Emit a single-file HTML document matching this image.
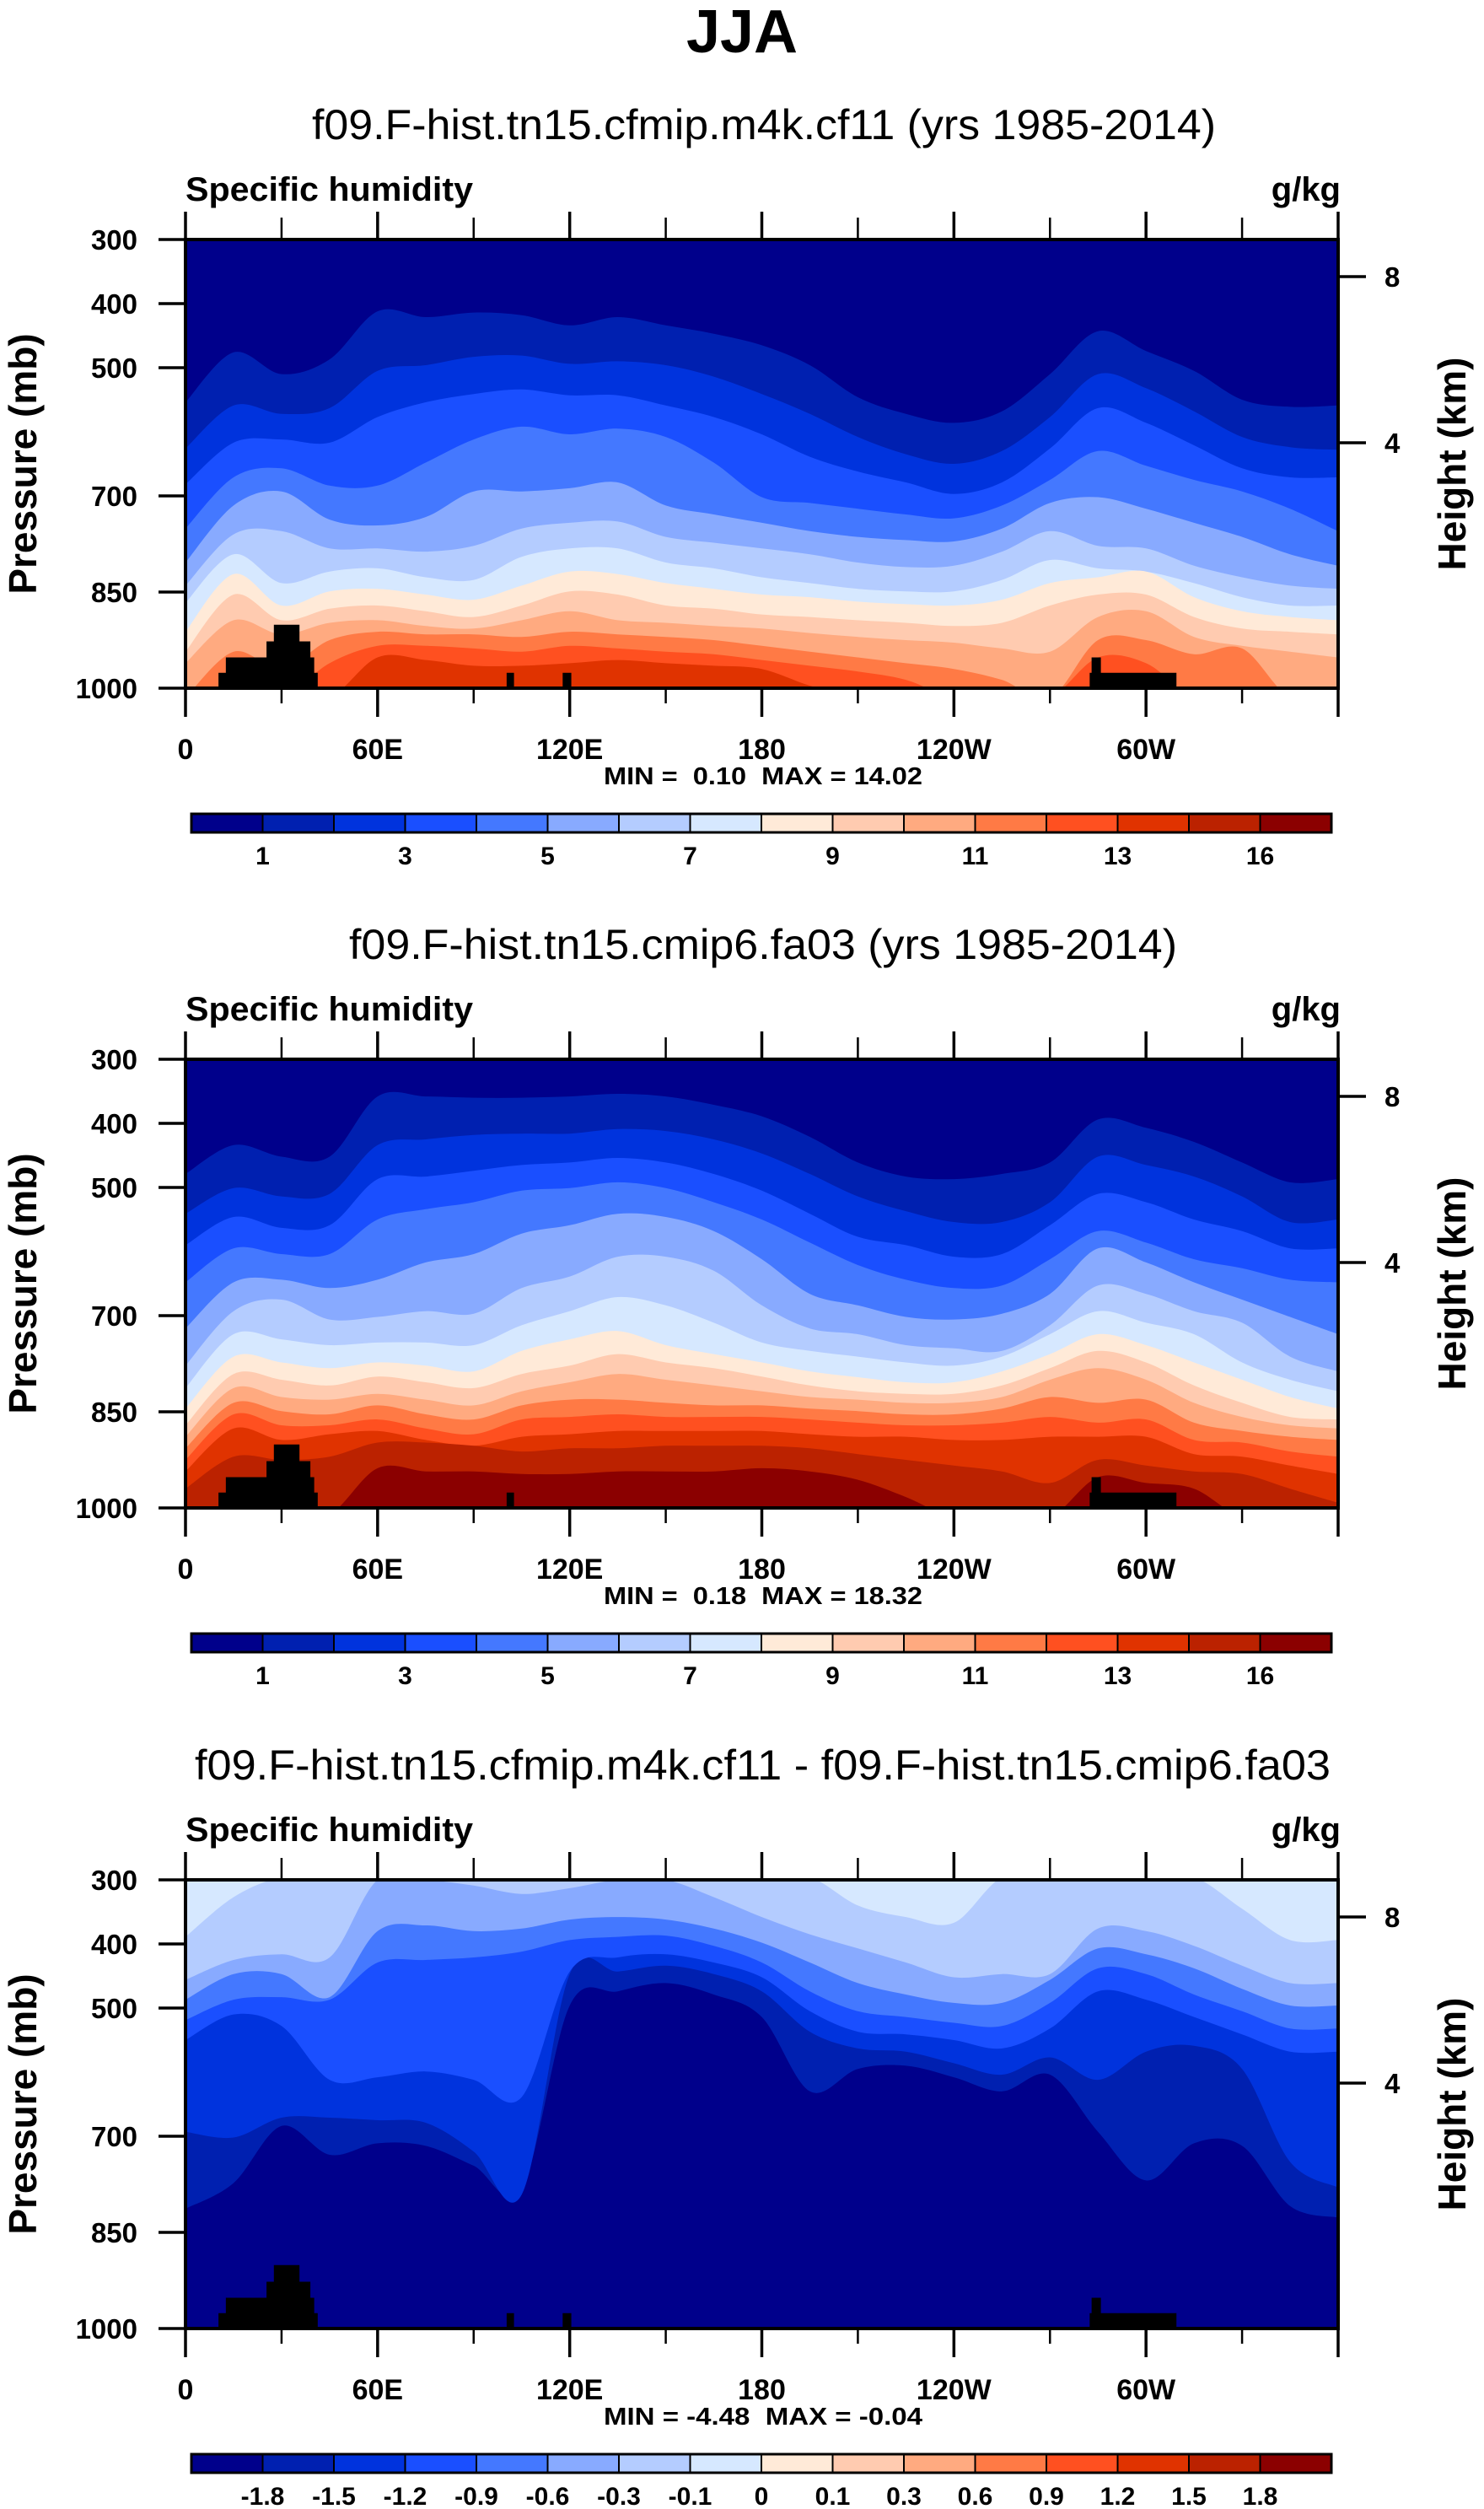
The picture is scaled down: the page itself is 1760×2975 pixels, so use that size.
<!DOCTYPE html>
<html><head><meta charset="utf-8">
<style>
html,body{margin:0;padding:0;background:#fff;}
svg{display:block;font-family:"Liberation Sans",Arial,sans-serif;}
.pre{white-space:pre;}
</style></head>
<body>
<svg id="fig" width="1760" height="2975" viewBox="0 0 1760 2975" xmlns="http://www.w3.org/2000/svg">
<defs>
<clipPath id="clip1"><rect x="220" y="284" width="1367" height="532"/></clipPath>
<clipPath id="clip2"><rect x="220" y="1256" width="1367" height="532"/></clipPath>
<clipPath id="clip3"><rect x="220" y="2229" width="1367" height="532"/></clipPath>
</defs>
<text x="880" y="62" text-anchor="middle" font-size="72" font-weight="bold">JJA</text>
<g id="plots"></g>
</svg>
<script>
// ---- data ----
const lons = [0,15,30,45,60,75,90,105,120,135,150,165,180,195,210,225,240,255,270,285,300,315,330,345,360];
const xTickLabels = ["0","60E","120E","180","120W","60W"];
const pTicks = [300,400,500,700,850,1000];
const hTicks = [8,4];
const colorsQ = ["#00008b","#0020b0","#0033dd","#1a4fff","#4478ff","#88aaff","#b4ccff","#d6e8ff","#ffead8","#ffcbb0","#ffaa80","#ff7a45","#ff5020","#e03300","#bb2200","#8b0000"];
const cbLabelsQ = ["1","3","5","7","9","11","13","16"];
const cbLabelsD = ["-1.8","-1.5","-1.2","-0.9","-0.6","-0.3","-0.1","0","0.1","0.3","0.6","0.9","1.2","1.5","1.8"];

// plot 1: pressure (mb) of each contour level along longitude
const p1L1 = [554,476,510,487,412,421,414,418,434,421,434,447,465,496,546,572,586,568,510,443,474,505,550,561,559];
const p1L2 = [626,559,572,563,505,496,483,481,494,490,496,514,541,572,608,635,650,630,577,510,532,568,608,624,628];
const p1L3 = [682,617,612,617,577,554,541,534,543,543,559,577,604,639,662,679,697,679,626,563,586,621,657,671,671];
const p1L4 = [751,671,657,684,684,648,612,592,604,595,608,648,702,711,720,729,735,715,675,630,653,675,693,720,755];
const p1L5 = [804,715,693,737,746,733,693,693,688,679,715,729,742,755,764,769,771,751,711,702,720,742,764,791,809];
const p1L6 = [840,760,755,782,782,787,778,751,742,740,764,773,782,791,804,811,809,787,755,778,782,809,827,840,845];
const p1L7 = [867,791,836,818,813,827,831,795,782,782,804,813,827,836,845,849,849,831,800,813,818,836,858,871,871];
const p1L8 = [912,822,871,849,845,854,862,840,818,822,836,845,854,858,865,869,871,862,836,827,818,858,880,889,894];
const p1L9 = [943,854,894,876,871,880,889,871,849,854,871,876,885,889,894,898,903,898,871,854,854,889,907,912,916];
const p1L10 = [961,894,916,898,894,903,907,894,880,894,898,903,907,914,920,925,929,938,943,889,880,920,934,943,952];
const p1L11 = [1015,943,970,925,912,916,916,920,912,916,920,925,934,943,952,961,970,987,1015,925,925,947,938,1015,1015];
const p1L12 = [1015,1015,1015,961,934,934,938,943,934,938,943,947,956,965,974,987,1015,1015,1015,952,961,1015,1015,1015,1015];
const p1L13 = [1015,1015,1015,1015,952,956,965,965,961,956,961,965,970,996,1015,1015,1015,1015,1015,1015,1015,1015,1015,1015,1015];

// plot 2
const p2L1 = [479,434,452,452,358,358,360,360,358,354,358,371,389,421,461,483,487,479,461,394,407,429,461,492,487];
const p2L2 = [541,501,514,510,434,425,418,416,416,409,412,425,447,479,514,537,554,554,523,452,465,483,514,554,550];
const p2L3 = [590,546,563,559,487,483,474,465,461,454,461,479,505,541,577,590,608,604,559,510,523,550,568,595,595];
const p2L4 = [648,595,604,604,550,534,523,505,501,492,501,523,550,586,621,644,657,653,612,568,586,612,626,644,648];
const p2L5 = [720,648,644,657,644,617,604,572,559,541,546,568,612,666,684,702,706,697,666,595,617,648,675,702,729];
const p2L6 = [778,693,675,706,702,693,697,657,639,608,608,630,684,720,729,746,751,755,715,653,666,693,711,764,787];
const p2L7 = [813,729,737,746,742,742,746,715,693,671,684,711,742,755,764,773,778,764,729,693,711,729,773,800,818];
const p2L8 = [845,764,773,782,773,778,787,755,737,724,746,760,773,787,796,804,804,787,760,729,746,773,800,827,845];
const p2L9 = [871,791,800,809,795,804,813,791,778,760,773,782,795,809,818,822,822,809,782,755,773,809,836,858,862];
const p2L10 = [889,813,827,831,822,831,840,818,804,791,800,809,818,827,831,836,836,827,800,782,800,836,858,871,876];
const p2L11 = [907,836,849,854,840,854,862,840,831,831,836,840,840,845,849,854,854,845,827,836,831,867,880,889,894];
const p2L12 = [925,854,871,871,862,876,885,862,858,854,858,858,858,862,867,871,871,867,858,867,862,894,898,912,920];
const p2L13 = [943,876,894,885,880,894,903,889,885,880,880,880,880,885,889,889,894,894,889,889,889,916,920,934,947];
const p2L14 = [970,920,925,920,898,898,903,912,907,907,903,903,903,907,916,925,934,943,961,925,934,943,947,970,992];
const p2L15 = [1015,1015,1015,1010,938,943,943,947,947,943,943,943,938,943,956,983,1015,1015,1015,952,961,970,1015,1015,1015];

// plot 3 (difference): lower pressure edge of each colour class from the top
const p3B1 = [813,773,684,729,711,715,746,782,496,474,461,479,514,630,595,590,608,630,604,693,769,711,715,809,827];
const p3B2 = [693,702,671,671,675,679,724,791,447,443,434,447,474,537,563,568,586,604,577,612,568,559,595,740,780];
const p3B3 = [550,510,528,612,608,599,612,639,443,421,416,429,452,505,537,541,550,563,532,474,487,514,541,568,568];
const p3B4 = [519,487,483,487,429,425,421,412,394,389,387,403,429,474,505,514,523,528,492,438,447,479,505,532,532];
const p3B5 = [487,447,447,483,380,371,380,376,362,358,362,376,398,429,461,479,492,492,456,407,416,438,470,496,496];
const p3B6 = [456,425,416,421,300,300,309,322,313,300,300,327,358,385,407,429,452,447,447,376,380,403,434,461,461];
const p3B7 = [389,327,296,296,296,296,296,296,296,296,296,296,296,296,340,358,367,296,296,296,296,296,345,394,394];

// land mask rectangles: lon start, lon end, top pressure
const landLon0 = [10.3,12.6,25.3,27.6,100.3,117.8,282.4,283.0];
const landLon1 = [41.3,40.2,39.0,35.6,102.6,120.5,309.5,285.9];
const landTop1 = [976,952,927,901,976,976,976,952];
const landTop2 = [976,952,927,901,976,1100,976,952];

const stats = ["MIN =  0.10  MAX = 14.02","MIN =  0.18  MAX = 18.32","MIN = -4.48  MAX = -0.04"];
const titles = ["f09.F-hist.tn15.cfmip.m4k.cf11 (yrs 1985-2014)","f09.F-hist.tn15.cmip6.fa03 (yrs 1985-2014)","f09.F-hist.tn15.cfmip.m4k.cf11 - f09.F-hist.tn15.cmip6.fa03"];
const titleX0 = [370,414,231];
const titleX1 = [1442,1396,1578];

// ---- drawing ----
const NS="http://www.w3.org/2000/svg";
const root=document.getElementById('plots');
const X0=220,X1=1587,H=532;
function mk(tag,attrs,parent){const e=document.createElementNS(NS,tag);for(const k in attrs)e.setAttribute(k,attrs[k]);(parent||root).appendChild(e);return e;}
function lonX(l){return X0+l/360*(X1-X0);}
function curve(arr,yf){
  const P=lons.map((l,i)=>[lonX(l),yf(arr[i])]);
  let d="M"+P[0][0].toFixed(1)+","+P[0][1].toFixed(1);
  for(let i=0;i<P.length-1;i++){
    const p0=P[Math.max(0,i-1)],p1=P[i],p2=P[i+1],p3=P[Math.min(P.length-1,i+2)];
    const c1=[p1[0]+(p2[0]-p0[0])/6,p1[1]+(p2[1]-p0[1])/6];
    const c2=[p2[0]-(p3[0]-p1[0])/6,p2[1]-(p3[1]-p1[1])/6];
    d+=" C"+c1[0].toFixed(1)+","+c1[1].toFixed(1)+" "+c2[0].toFixed(1)+","+c2[1].toFixed(1)+" "+p2[0].toFixed(1)+","+p2[1].toFixed(1);
  }
  return d;
}
const plots=[
 {top:284,clip:"clip1",levels:[p1L1,p1L2,p1L3,p1L4,p1L5,p1L6,p1L7,p1L8,p1L9,p1L10,p1L11,p1L12,p1L13],down:true,land:landTop1,cb:cbLabelsQ},
 {top:1256,clip:"clip2",levels:[p2L1,p2L2,p2L3,p2L4,p2L5,p2L6,p2L7,p2L8,p2L9,p2L10,p2L11,p2L12,p2L13,p2L14,p2L15],down:true,land:landTop2,cb:cbLabelsQ},
 {top:2229,clip:"clip3",levels:[p3B1,p3B2,p3B3,p3B4,p3B5,p3B6,p3B7],down:false,land:landTop1,cb:cbLabelsD}
];
plots.forEach((pl,pi)=>{
  const T=pl.top,B=T+H;
  const yf=p=>T+(p-300)/700*H;
  const g=mk('g',{});
  
  
  const t=mk('text',{x:(titleX0[pi]+titleX1[pi])/2,y:T-119,'text-anchor':'middle','font-size':50,textLength:titleX1[pi]-titleX0[pi],lengthAdjust:'spacingAndGlyphs'},g);
  t.textContent=titles[pi];
  
  
  const s1=mk('text',{x:220,y:T-46,'font-size':40,'font-weight':'bold',textLength:341,lengthAdjust:'spacingAndGlyphs'},g);
  s1.textContent="Specific humidity";
  
  
  const s2=mk('text',{x:1590,y:T-46,'font-size':40,'font-weight':'bold','text-anchor':'end'},g);
  s2.textContent="g/kg";
  
  
  const field=mk('g',{'clip-path':'url(#'+pl.clip+')'},g);
  
  
  const bg=mk('rect',{x:X0,y:T,width:X1-X0,height:H,fill:colorsQ[0]},field);
  
  
  pl.levels.forEach((arr,k)=>{
    let d=curve(arr,yf);
    if(pl.down) d+=" L"+(X1+5)+","+(B+5)+" L"+(X0-5)+","+(B+5)+" Z";
    else d+=" L"+(X1+5)+","+(T-5)+" L"+(X0-5)+","+(T-5)+" Z";
    const path=mk('path',{d:d,fill:colorsQ[k+1]},field);
    
    
  });
  landLon0.forEach((l0,i)=>{
    if(pl.land[i]>=1000) return;
    const r=mk('rect',{x:lonX(l0),y:yf(pl.land[i]),width:lonX(landLon1[i])-lonX(l0),height:B-yf(pl.land[i]),fill:'#000'},field);
    
    
  });
  const fr=mk('rect',{x:X0,y:T,width:X1-X0,height:H,fill:'none',stroke:'#000','stroke-width':4},g);
  
  
  for(let l=0;l<=360;l+=30){
    const x=lonX(l),maj=l%60===0;
    mk('line',{x1:x,x2:x,y1:T,y2:T-(maj?33:26),stroke:'#000','stroke-width':maj?3.5:2.5},g);
    mk('line',{x1:x,x2:x,y1:B,y2:B+(maj?34:18),stroke:'#000','stroke-width':maj?3.5:2.5},g);
    if(maj&&l<360){
      const tl=mk('text',{x:x,y:B+84,'text-anchor':'middle','font-size':34,'font-weight':'bold'},g);
      tl.textContent=xTickLabels[l/60];
      
      
    }
  }
  pTicks.forEach(p=>{
    const y=yf(p);
    mk('line',{x1:X0,x2:X0-32,y1:y,y2:y,stroke:'#000','stroke-width':3.5},g);
    const tl=mk('text',{x:163,y:y+12,'text-anchor':'end','font-size':33,'font-weight':'bold'},g);
    tl.textContent=p;
    
    
  });
  hTicks.forEach(h=>{
    const y=T+(h===8?44:241);
    mk('line',{x1:X1,x2:X1+33,y1:y,y2:y,stroke:'#000','stroke-width':3.5},g);
    const tl=mk('text',{x:1642,y:y+12,'font-size':33,'font-weight':'bold'},g);
    tl.textContent=h;
    
    
  });
  const yl=mk('text',{x:0,y:0,transform:'translate(43,'+(T+266)+') rotate(-90)','text-anchor':'middle','font-size':46,'font-weight':'bold'},g);
  yl.textContent="Pressure (mb)";
  
  
  const hl=mk('text',{x:0,y:0,transform:'translate(1738,'+(T+266)+') rotate(-90)','text-anchor':'middle','font-size':46,'font-weight':'bold'},g);
  hl.textContent="Height (km)";
  
  
  const st=mk('text',{x:905,y:B+114,'text-anchor':'middle','font-size':29,'font-weight':'bold',textLength:378,lengthAdjust:'spacingAndGlyphs','class':'pre'},g);
  st.textContent=stats[pi];
  
  
  // colorbar
  const cy=T+681,ch=22,cx0=227,cx1=1579,bw=(cx1-cx0)/16;
  const cbg=mk('g',{},g);
  
  
  colorsQ.forEach((c,i)=>{
    const r=mk('rect',{x:cx0+i*bw,y:cy,width:bw,height:ch,fill:c,stroke:'#000','stroke-width':2},cbg);
    
    
  });
  mk('rect',{x:cx0,y:cy,width:cx1-cx0,height:ch,fill:'none',stroke:'#000','stroke-width':3},cbg);
  pl.cb.forEach((lab,i)=>{
    const bi=pl.cb.length===15?i+1:2*i+1;
    const tl=mk('text',{x:cx0+bi*bw,y:cy+60,'text-anchor':'middle','font-size':30,'font-weight':'bold'},cbg);
    tl.textContent=lab;
    
    
  });
});
</script>
</body></html>
